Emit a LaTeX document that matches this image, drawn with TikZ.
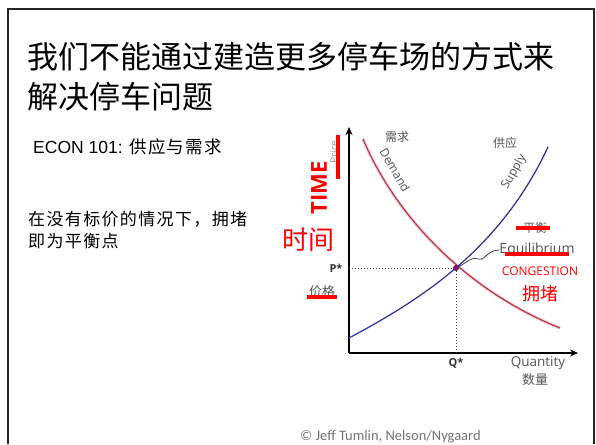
\documentclass[tikz,border=0pt]{standalone}
\usepackage{fontspec}
\setmainfont{Liberation Sans}
\newfontfamily\cjk{Noto Sans CJK SC}
\newfontfamily\cjkbody[LetterSpace=8]{Noto Sans CJK SC}
\newfontfamily\chartfont{Open Sans}
\newfontfamily\notefont{Carlito}
\usetikzlibrary{arrows.meta,positioning,calc}

\definecolor{demandred}{HTML}{B23A48}
\definecolor{demandhalo}{HTML}{F8D0D6}
\definecolor{supplyblue}{HTML}{2B2F9E}
\definecolor{labelgrey}{HTML}{555555}
\definecolor{markred}{HTML}{FF0000}
\definecolor{eqpurple}{HTML}{6B1E6E}

\tikzset{
  lbl/.style={font=\fontsize{12}{14}\selectfont\chartfont, text=labelgrey, inner sep=0pt},
  cjklbl/.style={font=\fontsize{12}{14}\selectfont\cjk, text=labelgrey, inner sep=0pt},
  starlbl/.style={font=\fontsize{11}{13}\selectfont\chartfont\bfseries, text=black!80, inner sep=0pt},
  redmark/.style={draw=markred, line width=3.5pt},
  redtxt/.style={text=markred, inner sep=0pt},
  axis/.style={line width=1.3pt, -{Stealth[length=8pt,width=7pt]}},
}

\begin{document}
\begin{tikzpicture}[x=1pt,y=-1pt]
\useasboundingbox (0,0) rectangle (596,444);
\fill[white] (0,0) rectangle (596,444);
% slide frame
\draw[line width=2.5pt, black!85] (8,444) -- (8,9) -- (594,9) -- (594,444);

% title and left column
\node[anchor=west, inner sep=0pt, font=\fontsize{31}{40}\selectfont\cjk, align=left] (title) at (27,77) {我们不能通过建造更多停车场的方式来\\解决停车问题};
\node[anchor=west, inner sep=0pt, font=\fontsize{17.5}{20}\selectfont] (econ) at (33,147) {ECON 101: {\cjkbody 供应与需求}};
\node[anchor=west, inner sep=0pt, font=\fontsize{17}{22}\selectfont\cjkbody, align=left] (note) at (28,230) {在没有标价的情况下，拥堵\\即为平衡点};

% axes
\coordinate (O) at (349,353);
\coordinate (ytop) at (349,127);
\coordinate (xend) at (578,353);
\draw[axis] (O) -- (ytop);
\draw[axis] (O) -- (xend);

% demand and supply
\draw[demandhalo, line width=3.2pt] (363,139) .. controls (395,215) and (465,290) .. (560,328);
\draw[demandred, line width=1.2pt] (363,139) .. controls (395,215) and (465,290) .. (560,328);
\draw[supplyblue, line width=1.2pt] (349,338) .. controls (420,300) and (500,250) .. (548,147);

% equilibrium point
\node[circle, fill=eqpurple, inner sep=0pt, minimum size=6pt] (eq) at (456,268) {};
\draw[dotted, line width=1pt, black!75] (O |- eq) -- (eq) -- (eq |- O);

% chart labels
\node[starlbl] (pstar) at (336,268) {P*};
\node[starlbl] (qstar) at (456,363) {Q*};
\node[lbl, font=\fontsize{13.5}{15}\selectfont\chartfont] (quant) at (538,363) {Quantity};
\node[cjklbl, font=\fontsize{13}{15}\selectfont\cjk] (shuliang) at (535,380) {数量};
\node[cjklbl] (xuqiu) at (397,137) {需求};
\node[cjklbl] (gongying) at (505,143) {供应};
\node[lbl, rotate=-60] (dem) at (395,170) {Demand};
\node[lbl, rotate=60] (sup) at (514,172) {Supply};
\node[lbl, rotate=90, font=\fontsize{10}{12}\selectfont\chartfont, text=black!40] (price) at (334,152) {Price};
\node[cjklbl] (pingheng) at (535,228) {平衡};
\node[lbl, font=\fontsize{14}{16}\selectfont\chartfont] (eqlab) at (537,250) {Equilibrium};
\node[cjklbl, font=\fontsize{13}{15}\selectfont\cjk] (jiage) at (322,292) {价格};
\draw[black!75, line width=0.8pt] (eq) .. controls (468,262) and (472,256) .. (478,259) .. controls (484,262) and (487,250) .. (eqlab.west);

% red notes
\node[redtxt, rotate=90, font=\fontsize{22}{26}\selectfont\chartfont\bfseries] (time) at (319,188) {TIME};
\node[redtxt, font=\fontsize{26}{28}\selectfont\cjk] (shijian) at (308,240) {时间};
\node[redtxt, font=\fontsize{12}{14}\selectfont\chartfont] (cong) at (540,271) {CONGESTION};
\node[redtxt, font=\fontsize{18}{20}\selectfont\cjk] (yongdu) at (540,294) {拥堵};
\draw[redmark] (338,135) -- (338,179);
\draw[redmark] (516,228) -- (550,228);
\draw[redmark] (505,254) -- (569,254);
\draw[redmark] (307,297) -- (337,297);

% credit
\node[anchor=west, inner sep=0pt, font=\fontsize{14.5}{16}\selectfont\notefont, text=black!55] (credit) at (300,437) {© Jeff Tumlin, Nelson/Nygaard};
\end{tikzpicture}
\end{document}
